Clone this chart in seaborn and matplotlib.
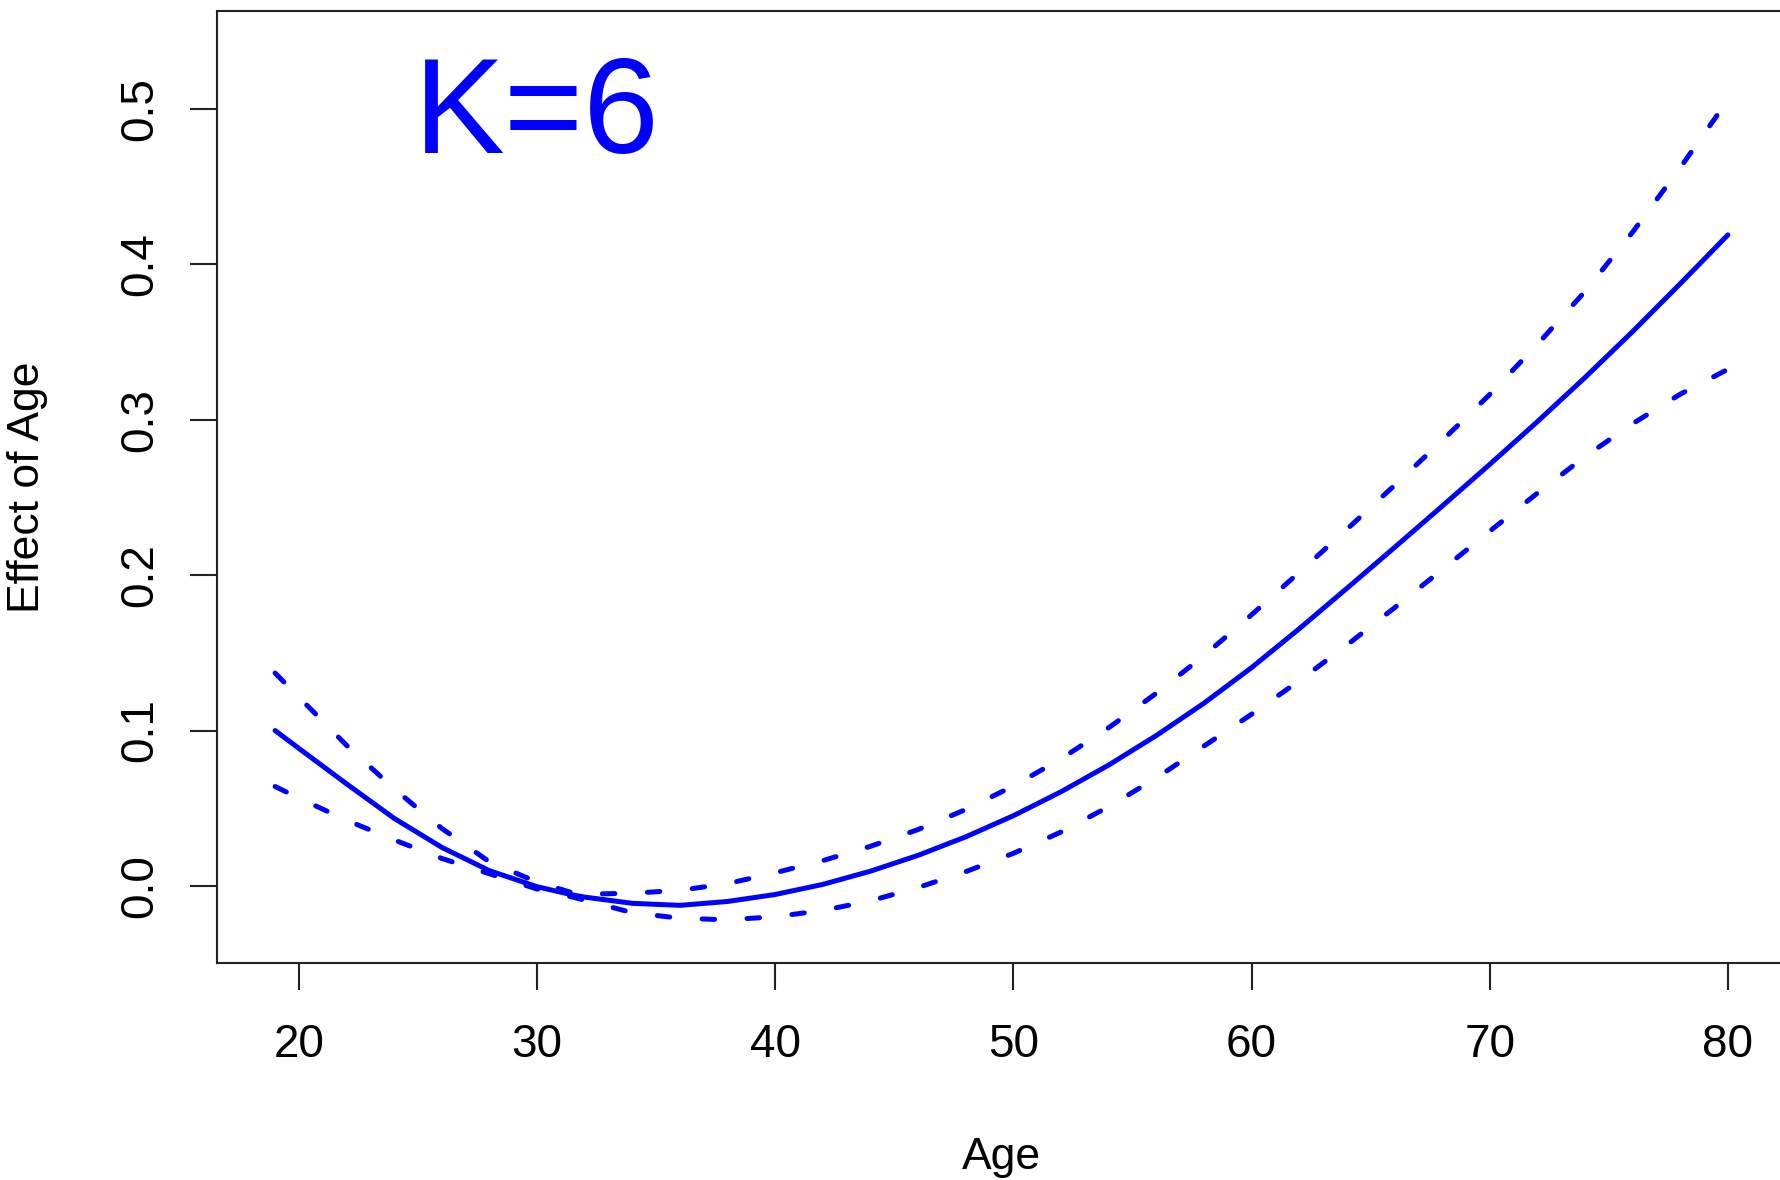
import matplotlib
matplotlib.use("Agg")
import matplotlib.pyplot as plt
import seaborn as sns
import pandas as pd

age = [19, 20, 22, 24, 26, 28, 30, 31.5, 32, 34, 36, 38, 40, 42, 44, 46, 48, 50,
       52, 54, 56, 58, 60, 62, 64, 66, 68, 70, 72, 74, 76, 78, 80]
fit = [0.100, 0.0885, 0.0657, 0.0435, 0.0248, 0.0098, -0.0005, -0.0058, -0.0072,
       -0.0112, -0.0125, -0.0100, -0.0055, 0.0010, 0.0095, 0.0197, 0.0316, 0.0452,
       0.0606, 0.0778, 0.0968, 0.1176, 0.1405, 0.1655, 0.1915, 0.2178, 0.2444,
       0.2713, 0.2988, 0.3272, 0.3568, 0.3876, 0.419]
upper = [0.137, 0.1215, 0.0905, 0.0625, 0.0370, 0.0155, 0.0025, -0.0045, -0.0053,
         -0.0047, -0.0028, 0.0015, 0.0085, 0.0163, 0.0255, 0.0363, 0.0492, 0.0643,
         0.0818, 0.1018, 0.1240, 0.1482, 0.1745, 0.2018, 0.2295, 0.2578, 0.2866,
         0.3163, 0.3485, 0.3826, 0.4208, 0.4623, 0.5058]
lower = [0.064, 0.0565, 0.0423, 0.0296, 0.0177, 0.0078, -0.0020, -0.0072, -0.0092,
         -0.0172, -0.0208, -0.0218, -0.0198, -0.0158, -0.0096, -0.0010, 0.0092,
         0.0210, 0.0347, 0.0510, 0.0695, 0.0900, 0.1105, 0.1320, 0.1550, 0.1790,
         0.2035, 0.2283, 0.2528, 0.2763, 0.2975, 0.3165, 0.3325]

x_ticks = [20, 30, 40, 50, 60, 70, 80]
y_ticks = [0.0, 0.1, 0.2, 0.3, 0.4, 0.5]
y_tick_labels = ["0.0", "0.1", "0.2", "0.3", "0.4", "0.5"]
title_text = "K=6"
x_label = "Age"
y_label = "Effect of Age"

sns.set_style("ticks")
plt.rcParams["font.family"] = ["Liberation Sans", "DejaVu Sans"]

df = pd.DataFrame({"age": age, "fit": fit, "upper": upper, "lower": lower})

W, H = 1781, 1180
fig = plt.figure(figsize=(W / 100, H / 100), dpi=100)
ax = fig.add_axes([217 / W, 1 - 963 / H, 1569 / W, 952 / H])

blue = "#0000FF"
lw = 3.6
sns.lineplot(data=df, x="age", y="fit", color=blue, lw=lw, ax=ax,
             solid_capstyle="round", solid_joinstyle="round")
for col in ["upper", "lower"]:
    sns.lineplot(data=df, x="age", y=col, color=blue, lw=lw, ax=ax,
                 linestyle=(0, (2.5, 6.5)), dash_capstyle="round",
                 dash_joinstyle="round")

ax.set_xlim(16.56, 82.44)
ax.set_ylim(-0.0496, 0.5631)
ax.set_xticks(x_ticks)
ax.set_xticklabels([str(t) for t in x_ticks])
ax.set_yticks(y_ticks)
ax.set_yticklabels(y_tick_labels, rotation=90, va="center")

for sp in ax.spines.values():
    sp.set_color("#222222")
    sp.set_linewidth(1.5)
ax.tick_params(axis="both", length=19.5, width=1.5, color="#222222",
               labelsize=33, labelcolor="black")
ax.tick_params(axis="x", pad=24)
ax.tick_params(axis="y", pad=20)

ax.set_xlabel(x_label, fontsize=32, color="black")
ax.set_ylabel(y_label, fontsize=32, color="black")
ax.xaxis.set_label_coords(0.5, -0.1825)
ax.yaxis.set_label_coords(-0.1077, 0.5)

ax.text(30, 0.4715, title_text, color=blue, fontsize=98, ha="center", va="baseline")

fig.savefig("out.png", dpi=100)
